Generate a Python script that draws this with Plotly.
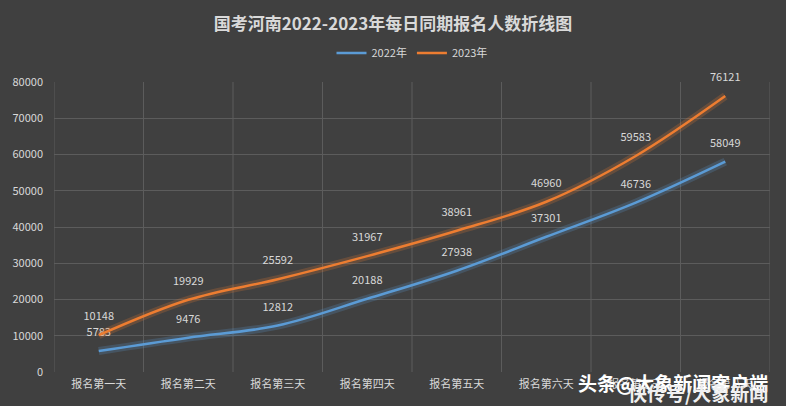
import plotly.graph_objects as go

categories = ["报名第一天", "报名第二天", "报名第三天", "报名第四天", "报名第五天", "报名第六天", "报名第七天", "报名第八天"]
y2022 = [5783, 9476, 12812, 20188, 27938, 37301, 46736, 58049]
y2023 = [10148, 19929, 25592, 31967, 38961, 46960, 59583, 76121]
y_ticks = [0, 10000, 20000, 30000, 40000, 50000, 60000, 70000, 80000]

BG = "#404040"
GRID = "#5c5c5c"
TXT = "#d9d9d9"
BLUE = "#5b9bd5"
ORANGE = "#ed7d31"
FONT = "Noto Sans CJK SC"

fig = go.Figure()
for vals, col, name in [(y2022, BLUE, "2022年"), (y2023, ORANGE, "2023年")]:
    # soft glow under the line
    fig.add_trace(go.Scatter(x=categories, y=vals, mode="lines", line=dict(color=col, width=8, shape="spline"),
                             opacity=0.22, showlegend=False, hoverinfo="skip"))
    fig.add_trace(go.Scatter(x=categories, y=vals, mode="lines+markers+text", name=name,
                             line=dict(color=col, width=2.5, shape="spline"),
                             marker=dict(size=18, color="rgba(0,0,0,0)"),
                             cliponaxis=False,
                             text=[str(v) for v in vals], textposition="top center",
                             textfont=dict(color=TXT, size=11, family=FONT)))

fig.update_layout(
    width=786, height=406,
    paper_bgcolor=BG, plot_bgcolor=BG,
    margin=dict(l=50, r=16, t=82, b=34),
    title=dict(text="<b>国考河南2022-2023年每日同期报名人数折线图</b>", x=0.5, xanchor="center",
               y=0.94, yanchor="middle", font=dict(color=TXT, size=17, family=FONT)),
    legend=dict(orientation="h", x=0.5, xanchor="center", y=1.1, yanchor="middle",
                font=dict(color=TXT, size=11, family=FONT), bgcolor="rgba(0,0,0,0)"),
    font=dict(family=FONT, color=TXT),
    xaxis=dict(showgrid=False, showline=False, zeroline=False, tickfont=dict(color=TXT, size=11),
               ticks="", ticklabelstandoff=4, range=[-0.5, len(categories) - 0.5]),
    yaxis=dict(range=[0, 80000], tickvals=y_ticks, tickformat="d", showgrid=True, gridcolor=GRID, gridwidth=1,
               zeroline=False, tickfont=dict(color=TXT, size=11), ticks="", ticklabelstandoff=10),
)
# vertical category boundary lines
for i in range(len(categories) + 1):
    fig.add_shape(type="line", xref="x", yref="paper", x0=i - 0.5, x1=i - 0.5, y0=0, y1=1,
                  line=dict(color=GRID, width=1), layer="below")

# watermark texts seen in the picture
fig.add_annotation(text="<b>头条@大象新闻客户端</b>", xref="paper", yref="paper", x=1.0, y=-0.035,
                   xanchor="right", yanchor="middle", showarrow=False,
                   font=dict(color="#ffffff", size=19, family=FONT))
fig.add_annotation(text="<b>快传号/大象新闻</b>", xref="paper", yref="paper", x=1.0, y=-0.07,
                   xanchor="right", yanchor="middle", showarrow=False,
                   font=dict(color="#f0f0f0", size=19, family=FONT))

fig.write_html("out.html")
